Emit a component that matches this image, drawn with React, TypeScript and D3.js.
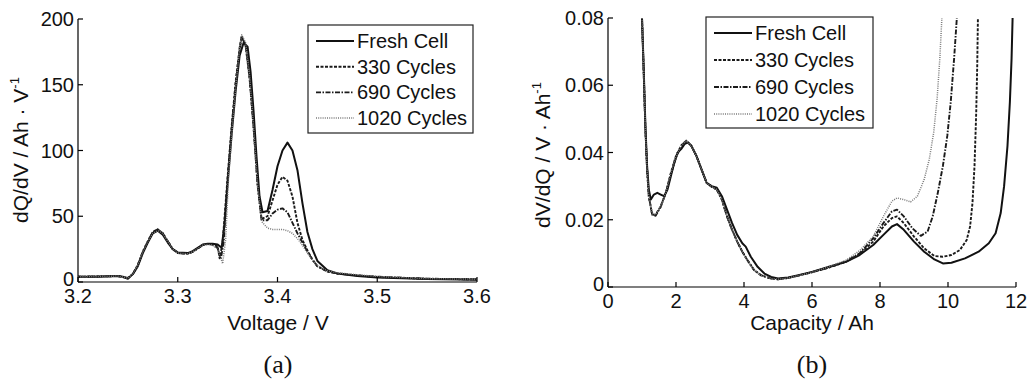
import * as d3 from 'd3';

type Pt = [number, number];

// (a) dQ/dV vs voltage
const dqdvFresh: Pt[] = [
  [3.2, 4], [3.22, 4], [3.24, 4.5], [3.245, 4], [3.25, 2.5], [3.255, 6], [3.26, 12], [3.265, 22],
  [3.27, 30], [3.275, 37], [3.28, 39], [3.285, 36], [3.29, 30], [3.295, 25], [3.3, 22.5], [3.31, 22],
  [3.315, 23.5], [3.32, 26], [3.325, 28.5], [3.33, 29], [3.335, 29], [3.34, 28.5], [3.344, 26],
  [3.347, 45], [3.35, 75], [3.354, 112], [3.358, 145], [3.362, 172], [3.366, 182], [3.37, 179],
  [3.373, 160], [3.376, 130], [3.379, 95], [3.382, 65], [3.385, 53], [3.39, 54], [3.395, 70],
  [3.4, 88], [3.405, 100], [3.41, 106], [3.415, 100], [3.42, 85], [3.425, 60], [3.43, 38],
  [3.435, 25], [3.44, 16], [3.45, 9], [3.46, 6.5], [3.48, 4.5], [3.5, 3.5], [3.55, 2.2], [3.6, 1.8],
];
const dqdv330: Pt[] = [
  [3.2, 4], [3.24, 4.5], [3.25, 3], [3.255, 6], [3.26, 13], [3.265, 23], [3.27, 31], [3.275, 38],
  [3.28, 40], [3.285, 37], [3.29, 31], [3.295, 25], [3.3, 22], [3.31, 21.5], [3.315, 23], [3.32, 25.5],
  [3.325, 28], [3.33, 29], [3.335, 28.5], [3.34, 27], [3.342, 18], [3.345, 30], [3.35, 80],
  [3.354, 118], [3.358, 152], [3.362, 178], [3.364, 187], [3.368, 180], [3.372, 155], [3.376, 118],
  [3.38, 75], [3.384, 48], [3.39, 50], [3.395, 62], [3.4, 74], [3.405, 80], [3.41, 77], [3.415, 65],
  [3.42, 45], [3.425, 32], [3.43, 24], [3.435, 17], [3.44, 12], [3.45, 8], [3.46, 6.5], [3.48, 5],
  [3.5, 3.8], [3.55, 2.4], [3.6, 2],
];
const dqdv690: Pt[] = [
  [3.2, 4], [3.24, 4.5], [3.25, 3], [3.255, 6], [3.26, 13], [3.265, 23], [3.27, 31], [3.275, 38],
  [3.28, 40], [3.285, 37], [3.29, 31], [3.295, 25], [3.3, 22], [3.31, 21.5], [3.315, 23], [3.32, 25.5],
  [3.325, 28], [3.33, 29], [3.335, 28.5], [3.34, 26], [3.343, 17], [3.346, 30], [3.35, 78],
  [3.354, 116], [3.358, 150], [3.362, 176], [3.364, 186], [3.368, 181], [3.372, 156], [3.376, 118],
  [3.38, 74], [3.384, 47], [3.39, 47], [3.395, 52], [3.4, 55], [3.405, 56], [3.41, 53], [3.415, 45],
  [3.42, 37], [3.425, 30], [3.43, 23], [3.435, 17], [3.44, 12], [3.45, 8], [3.46, 6.5], [3.48, 5],
  [3.5, 4], [3.55, 2.5], [3.6, 2],
];
const dqdv1020: Pt[] = [
  [3.2, 4], [3.24, 4.5], [3.25, 3], [3.255, 6], [3.26, 13], [3.265, 23], [3.27, 31], [3.275, 37],
  [3.28, 39], [3.285, 37], [3.29, 31], [3.295, 25], [3.3, 22], [3.31, 21.5], [3.315, 23], [3.32, 25.5],
  [3.325, 28], [3.33, 28.5], [3.335, 28], [3.34, 25], [3.345, 14], [3.348, 32], [3.351, 80],
  [3.355, 120], [3.359, 155], [3.362, 178], [3.364, 188], [3.368, 182], [3.372, 157], [3.376, 118],
  [3.38, 74], [3.384, 46], [3.39, 41], [3.395, 40], [3.405, 40], [3.41, 39], [3.415, 37], [3.42, 33],
  [3.425, 28], [3.43, 22], [3.435, 17], [3.44, 12.5], [3.45, 8.5], [3.46, 7], [3.48, 5.5],
  [3.5, 4.2], [3.55, 2.6], [3.6, 2.1],
];

// (b) dV/dQ vs capacity
const dvdqFresh: Pt[] = [
  [1.0, 0.08], [1.05, 0.065], [1.1, 0.048], [1.15, 0.036], [1.2, 0.029], [1.26, 0.026], [1.35, 0.0275],
  [1.45, 0.028], [1.55, 0.0275], [1.65, 0.027], [1.75, 0.029], [1.85, 0.033], [1.95, 0.037],
  [2.05, 0.04], [2.15, 0.041], [2.25, 0.0425], [2.35, 0.043], [2.45, 0.042], [2.6, 0.039],
  [2.75, 0.035], [2.9, 0.031], [3.05, 0.03], [3.2, 0.0295], [3.35, 0.027], [3.5, 0.023],
  [3.65, 0.019], [3.8, 0.0155], [3.95, 0.013], [4.05, 0.012], [4.2, 0.009], [4.4, 0.006],
  [4.6, 0.004], [4.8, 0.003], [5.0, 0.0025], [5.3, 0.0028], [5.6, 0.0035], [6.0, 0.0045],
  [6.5, 0.006], [7.0, 0.0075], [7.4, 0.0095], [7.8, 0.0125], [8.1, 0.0155], [8.35, 0.018],
  [8.5, 0.0187], [8.7, 0.017], [9.0, 0.0135], [9.3, 0.0105], [9.6, 0.0082], [9.85, 0.007],
  [10.1, 0.0072], [10.5, 0.0085], [10.9, 0.0105], [11.2, 0.013], [11.4, 0.016], [11.55, 0.022],
  [11.65, 0.03], [11.75, 0.042], [11.82, 0.055], [11.87, 0.068], [11.9, 0.08],
];
const dvdq330: Pt[] = [
  [1.0, 0.08], [1.05, 0.064], [1.1, 0.047], [1.15, 0.035], [1.2, 0.027], [1.3, 0.0215], [1.4, 0.0215],
  [1.55, 0.024], [1.7, 0.028], [1.85, 0.034], [2.0, 0.039], [2.15, 0.042], [2.3, 0.0435],
  [2.45, 0.042], [2.6, 0.039], [2.75, 0.035], [2.9, 0.031], [3.05, 0.0298], [3.2, 0.029],
  [3.35, 0.026], [3.5, 0.021], [3.65, 0.017], [3.8, 0.0135], [3.95, 0.0105], [4.1, 0.008],
  [4.3, 0.005], [4.5, 0.0035], [4.8, 0.0025], [5.0, 0.0023], [5.3, 0.0027], [5.6, 0.0034],
  [6.0, 0.0044], [6.5, 0.0058], [7.0, 0.0075], [7.4, 0.0098], [7.8, 0.0135], [8.1, 0.018],
  [8.35, 0.0205], [8.5, 0.021], [8.7, 0.019], [9.0, 0.015], [9.3, 0.0115], [9.6, 0.0092],
  [9.85, 0.009], [10.1, 0.0095], [10.35, 0.011], [10.55, 0.014], [10.65, 0.018], [10.72, 0.025],
  [10.78, 0.036], [10.83, 0.052], [10.86, 0.066], [10.88, 0.08],
];
const dvdq690: Pt[] = [
  [1.0, 0.08], [1.05, 0.064], [1.1, 0.047], [1.15, 0.035], [1.2, 0.027], [1.3, 0.0215], [1.4, 0.0212],
  [1.55, 0.0238], [1.7, 0.028], [1.85, 0.0335], [2.0, 0.0385], [2.15, 0.042], [2.3, 0.0435],
  [2.45, 0.042], [2.6, 0.039], [2.75, 0.035], [2.9, 0.031], [3.05, 0.0298], [3.2, 0.029],
  [3.35, 0.026], [3.5, 0.021], [3.65, 0.017], [3.8, 0.0135], [3.95, 0.0105], [4.1, 0.008],
  [4.3, 0.005], [4.5, 0.0035], [4.8, 0.0025], [5.0, 0.0023], [5.3, 0.0027], [5.6, 0.0034],
  [6.0, 0.0044], [6.5, 0.0058], [7.0, 0.0076], [7.4, 0.01], [7.8, 0.0145], [8.1, 0.019],
  [8.35, 0.0225], [8.5, 0.023], [8.7, 0.021], [8.95, 0.0175], [9.2, 0.0152], [9.4, 0.0165],
  [9.55, 0.021], [9.7, 0.028], [9.85, 0.036], [9.98, 0.045], [10.08, 0.055], [10.18, 0.068],
  [10.26, 0.08],
];
const dvdq1020: Pt[] = [
  [1.0, 0.08], [1.05, 0.064], [1.1, 0.047], [1.15, 0.035], [1.2, 0.027], [1.3, 0.022], [1.4, 0.0215],
  [1.55, 0.024], [1.7, 0.028], [1.85, 0.034], [2.0, 0.039], [2.15, 0.042], [2.3, 0.0435],
  [2.45, 0.042], [2.6, 0.039], [2.75, 0.035], [2.9, 0.031], [3.05, 0.0298], [3.2, 0.029],
  [3.35, 0.026], [3.5, 0.021], [3.65, 0.017], [3.8, 0.0135], [3.95, 0.0105], [4.1, 0.008],
  [4.3, 0.005], [4.5, 0.0035], [4.8, 0.0025], [5.0, 0.0023], [5.3, 0.0027], [5.6, 0.0034],
  [6.0, 0.0044], [6.5, 0.006], [7.0, 0.008], [7.4, 0.0108], [7.8, 0.015], [8.1, 0.021],
  [8.35, 0.0255], [8.5, 0.0265], [8.7, 0.026], [8.9, 0.0253], [9.1, 0.027], [9.3, 0.032],
  [9.45, 0.038], [9.58, 0.046], [9.68, 0.056], [9.76, 0.068], [9.82, 0.08],
];

const seriesNames = ['Fresh Cell', '330 Cycles', '690 Cycles', '1020 Cycles'];
const voltTicks = [3.2, 3.3, 3.4, 3.5, 3.6];
const dqdvTicks = [0, 50, 100, 150, 200];
const capTicks = [0, 2, 4, 6, 8, 10, 12];
const dvdqTicks = [0, 0.02, 0.04, 0.06, 0.08];

const STYLES = [
  { stroke: '#111', width: 2, dash: '' },
  { stroke: '#1a1a1a', width: 1.9, dash: '3,1.5' },
  { stroke: '#1a1a1a', width: 1.9, dash: '5,1.5,1.5,1.5' },
  { stroke: '#7a7a7a', width: 1.5, dash: '1,1.2' },
];

const FONT = 'Arial, "Liberation Sans", sans-serif';

interface PanelProps {
  x: d3.ScaleLinear<number, number>;
  y: d3.ScaleLinear<number, number>;
  xTicks: number[];
  yTicks: number[];
  xFmt: (v: number) => string;
  yFmt: (v: number) => string;
  series: Pt[][];
  legend: { x: number; y: number; w: number; h: number; row: number };
}

function Panel({ x, y, xTicks, yTicks, xFmt, yFmt, series, legend }: PanelProps) {
  const [x0, x1] = x.range();
  const [y0, y1] = y.range();
  const line = d3.line<Pt>().x(d => x(d[0])).y(d => y(d[1]));
  return (
    <g fontFamily={FONT}>
      {series.map((s, i) => (
        <path key={i} d={line(s) ?? ''} fill="none" stroke={STYLES[i].stroke}
          strokeWidth={STYLES[i].width} strokeDasharray={STYLES[i].dash} strokeLinejoin="round" />
      ))}
      <line x1={x0} x2={x0} y1={y0} y2={y1} stroke="#000" strokeWidth={1.2} />
      <line x1={x0} x2={x1} y1={y0} y2={y0} stroke="#000" strokeWidth={1.2} />
      {yTicks.map(t => (
        <g key={'y' + t}>
          <line x1={x0} x2={x0 + 5} y1={y(t)} y2={y(t)} stroke="#000" strokeWidth={1.2} />
          <text x={x0 - 4} y={t === 0 ? y(t) - 3 : y(t)} dy="0.35em" textAnchor="end" fontSize={20} fill="#111">{yFmt(t)}</text>
        </g>
      ))}
      {xTicks.map(t => (
        <g key={'x' + t}>
          <line x1={x(t)} x2={x(t)} y1={y0} y2={y0 - 5} stroke="#000" strokeWidth={1.2} />
          <text x={x(t)} y={y0 + 21} textAnchor="middle" fontSize={20} fill="#111">{xFmt(t)}</text>
        </g>
      ))}
      <rect x={legend.x} y={legend.y} width={legend.w} height={legend.h} fill="#fff" stroke="#222" strokeWidth={1.2} />
      {seriesNames.map((n, i) => {
        const cy = legend.y + 16 + i * legend.row;
        return (
          <g key={n}>
            <line x1={legend.x + 8} x2={legend.x + 46} y1={cy} y2={cy} stroke={STYLES[i].stroke}
              strokeWidth={STYLES[i].width} strokeDasharray={STYLES[i].dash} />
            <text x={legend.x + 49} y={cy} dy="0.35em" fontSize={20} fill="#111">{n}</text>
          </g>
        );
      })}
    </g>
  );
}

export default function App() {
  const xA = d3.scaleLinear().domain([3.2, 3.6]).range([78, 477]);
  const yA = d3.scaleLinear().domain([0, 200]).range([282, 19]);
  const xB = d3.scaleLinear().domain([0, 12]).range([608, 1016]);
  const yB = d3.scaleLinear().domain([0, 0.08]).range([287, 18]);
  return (
    <svg width={1028} height={385} style={{ position: 'absolute', left: 0, top: 0, background: '#fff' }}>
      <Panel x={xA} y={yA} xTicks={voltTicks} yTicks={dqdvTicks}
        xFmt={d3.format('.1f')} yFmt={d3.format('d')}
        series={[dqdvFresh, dqdv330, dqdv690, dqdv1020]}
        legend={{ x: 308, y: 25, w: 165, h: 108, row: 25.7 }} />
      <Panel x={xB} y={yB} xTicks={capTicks} yTicks={dvdqTicks}
        xFmt={d3.format('d')} yFmt={v => (v === 0 ? '0' : d3.format('.2f')(v))}
        series={[dvdqFresh, dvdq330, dvdq690, dvdq1020]}
        legend={{ x: 706, y: 17, w: 167, h: 111, row: 27 }} />
      <g fontFamily={FONT} fontSize={21} fill="#111">
        <text x={278} y={330} textAnchor="middle">Voltage / V</text>
        <text x={812} y={330} textAnchor="middle">Capacity / Ah</text>
        <text transform="translate(28,150) rotate(-90)" textAnchor="middle">
          dQ/dV / Ah · V<tspan fontSize={13} dy={-9}>-1</tspan>
        </text>
        <text transform="translate(550,155) rotate(-90)" textAnchor="middle">
          dV/dQ / V · Ah<tspan fontSize={13} dy={-9}>-1</tspan>
        </text>
      </g>
      <g fontFamily='"Liberation Serif", "Times New Roman", serif' fontSize={26} fill="#111">
        <text x={278} y={373} textAnchor="middle">(a)</text>
        <text x={812} y={373} textAnchor="middle">(b)</text>
      </g>
    </svg>
  );
}
